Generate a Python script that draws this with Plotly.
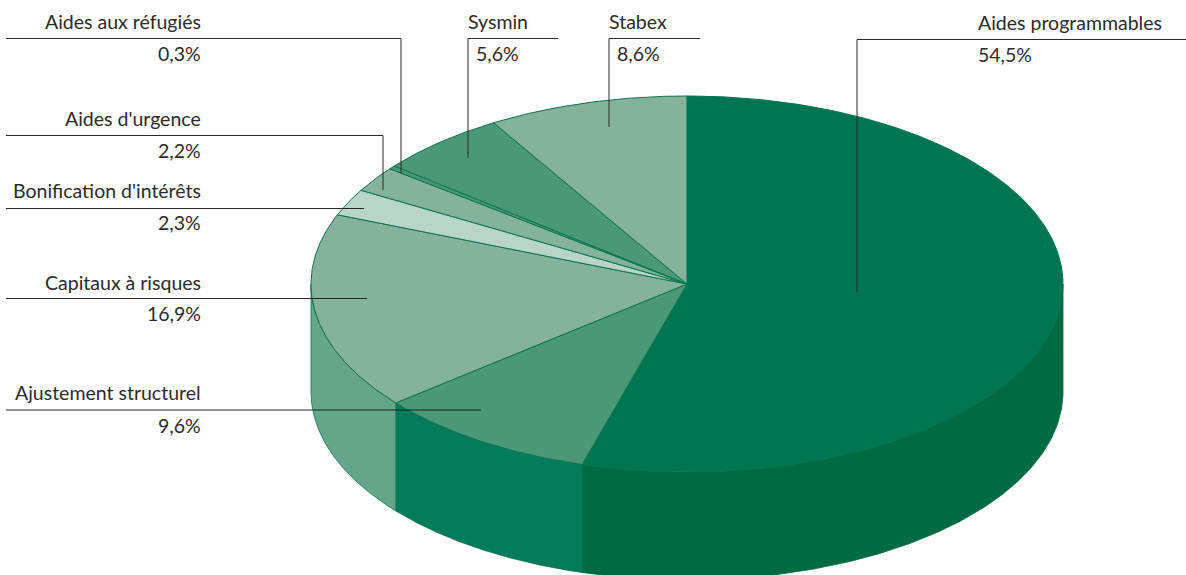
import numpy as np
import plotly.graph_objects as go

# Shares of each aid instrument, clockwise from twelve o'clock
categories = ["Aides programmables", "Ajustement structurel", "Capitaux à risques",
              "Bonification d'intérêts", "Aides d'urgence", "Aides aux réfugiés",
              "Sysmin", "Stabex"]
values = [54.5, 9.6, 16.9, 2.3, 2.2, 0.3, 5.6, 8.6]
value_labels = ["54,5%", "9,6%", "16,9%", "2,3%", "2,2%", "0,3%", "5,6%", "8,6%"]
top_colors = ["#00754f", "#4a9878", "#84b29c", "#b9d5c9", "#84b29c", "#4a9878", "#4a9878", "#84b29c"]
side_colors = ["#006a42", "#047c5a", "#65a689", "#65a689", "#65a689", "#65a689", "#65a689", "#65a689"]

# Pie geometry in pixel units of the plot area
CX, CY, RX, RY, DEPTH = 687.0, 284.0, 376.0, 188.0, 108.0
EDGE = "#0b7350"
RULE = "rgba(20,20,20,0.9)"
DROP = "rgba(40,40,40,0.62)"
TEXT = "#2b2b2b"
FONT = "Lato"
SIZE = 19.5

# Leader polylines: (horizontal start, horizontal end, rule y, vertical end y or None, elbow side)
leaders = {
    "Aides programmables": (857, 1186, 39.5, 292, "left"),
    "Ajustement structurel": (6, 481, 410, None, "right"),
    "Capitaux à risques": (6, 367, 298.5, None, "right"),
    "Bonification d'intérêts": (6, 364, 208.5, None, "right"),
    "Aides d'urgence": (6, 383, 135.5, 190, "right"),
    "Aides aux réfugiés": (6, 401, 38.5, 173, "right"),
    "Sysmin": (468, 558, 38.5, 158, "left"),
    "Stabex": (609, 700, 38.5, 127, "left"),
}
# Callout text: (x of name, x of value, y of name, y of value, anchor)
label_pos = {
    "Aides programmables": (978, 978, 22.5, 54.5, "left"),
    "Ajustement structurel": (201, 201, 392.5, 425, "right"),
    "Capitaux à risques": (201, 201, 282, 313.5, "right"),
    "Bonification d'intérêts": (201, 201, 190, 222, "right"),
    "Aides d'urgence": (201, 201, 118.5, 150.5, "right"),
    "Aides aux réfugiés": (201, 201, 21.5, 53.5, "right"),
    "Sysmin": (468, 476, 21.5, 53.5, "left"),
    "Stabex": (609, 617, 21.5, 53.5, "left"),
}


def rim(t):
    """Points on the top ellipse for angles t in radians, clockwise from the top."""
    return CX + RX * np.sin(t), CY - RY * np.cos(t)


fig = go.Figure()
edges = np.cumsum([0] + values) / sum(values) * 2 * np.pi

# Outer wall: only the front half of the cylinder is visible
for i, name in enumerate(categories):
    a = max(edges[i], np.pi / 2)
    b = min(edges[i + 1], 3 * np.pi / 2)
    if b <= a:
        continue
    t = np.linspace(a, b, 160)
    x, y = rim(t)
    fig.add_trace(go.Scatter(
        x=np.r_[x, x[::-1], x[0]], y=np.r_[y, y[::-1] + DEPTH, y[0]],
        mode="lines", fill="toself", fillcolor=side_colors[i],
        line=dict(color=side_colors[i] if i == 0 else EDGE, width=0.8),
        hoverinfo="skip", showlegend=False))

# Top face wedges
for i, name in enumerate(categories):
    t = np.linspace(edges[i], edges[i + 1], max(int(values[i] * 8), 6))
    x, y = rim(t)
    fig.add_trace(go.Scatter(
        x=np.r_[CX, x, CX], y=np.r_[CY, y, CY],
        mode="lines", fill="toself", fillcolor=top_colors[i],
        line=dict(color=top_colors[i] if i == 0 else EDGE, width=1),
        name=name, text=value_labels[i], hoverinfo="name+text", showlegend=False))

# Leader rules, drops and callout text
annotations = []
for name, label in zip(categories, value_labels):
    x0, x1, ry, vy, side = leaders[name]
    fig.add_trace(go.Scatter(x=[x0, x1], y=[ry, ry], mode="lines",
                             line=dict(color=RULE, width=1),
                             hoverinfo="skip", showlegend=False))
    if vy is not None:
        vx = x1 if side == "right" else x0
        fig.add_trace(go.Scatter(x=[vx, vx], y=[ry, vy], mode="lines",
                                 line=dict(color=DROP, width=1.6),
                                 hoverinfo="skip", showlegend=False))
    nx, px, ny, py, anchor = label_pos[name]
    for text, ax, ay in ((name, nx, ny), (label, px, py)):
        annotations.append(dict(x=ax, y=ay, text=text, xref="x", yref="y",
                                xanchor=anchor, yanchor="middle", showarrow=False,
                                borderpad=0, borderwidth=0,
                                font=dict(family=FONT, size=SIZE, color=TEXT)))

fig.update_layout(
    width=1186, height=575, margin=dict(l=0, r=0, t=0, b=0),
    paper_bgcolor="white", plot_bgcolor="white", annotations=annotations,
    xaxis=dict(range=[0, 1186], visible=False, fixedrange=True),
    yaxis=dict(range=[575, 0], visible=False, fixedrange=True),
)
fig.write_html("out.html", config=dict(displayModeBar=False))
